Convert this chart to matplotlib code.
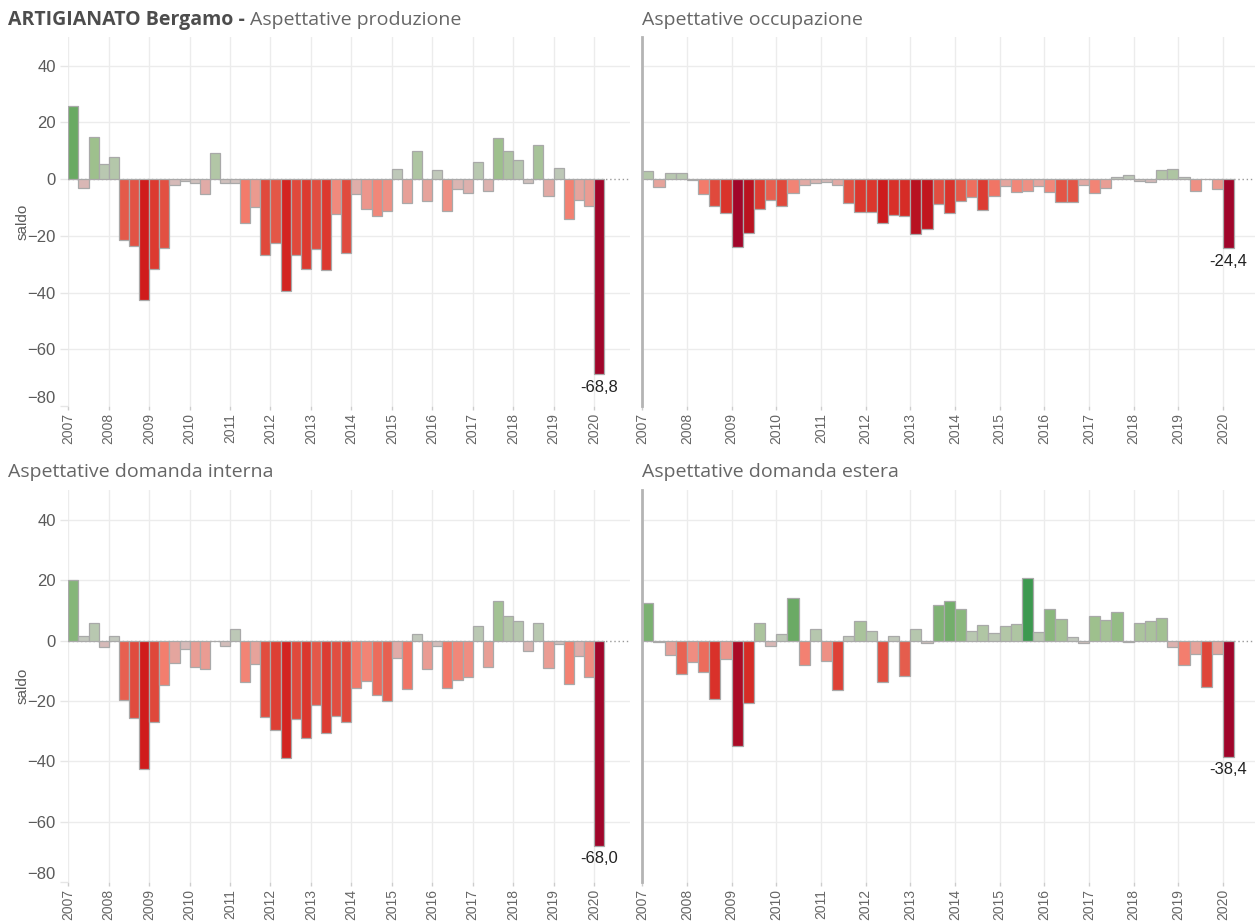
import numpy as np
import matplotlib
matplotlib.use('Agg')
import matplotlib.pyplot as plt
from matplotlib.colors import LinearSegmentedColormap, Normalize

plt.rcParams['font.family'] = ['Liberation Sans', 'DejaVu Sans']

# trimestri 2007 T1 .. 2020 T1
anni = list(range(2007, 2021))
trimestri = [(a, q) for a in anni for q in (1, 2, 3, 4)][:53]

produzione = [25.8, -3.1, 14.9, 5.5, 7.8, -21.5, -23.5, -42.5, -31.6, -24.4, -2.2, -0.6, -1.3, -5.4,
              9.1, -1.3, -1.3, -15.4, -10.0, -26.8, -22.4, -39.4, -26.8, -31.6, -24.8, -32.1, -12.4,
              -26.2, -5.3, -10.5, -13.1, -11.3, 3.5, -8.6, 9.9, -7.8, 3.1, -11.3, -3.6, -4.8, 6.2,
              -4.1, 14.6, 9.9, 6.7, -1.3, 12.2, -6.0, 4.0, -14.1, -7.4, -9.5, -68.8]
occupazione = [2.7, -2.8, 2.2, 2.2, -0.4, -5.4, -9.5, -12.1, -24.1, -18.9, -10.7, -7.2, -9.5, -4.8,
               -2.2, -1.3, -0.9, -2.2, -8.5, -11.6, -11.6, -15.6, -12.5, -13.1, -19.4, -17.6, -8.8,
               -12.1, -7.6, -6.2, -10.9, -5.9, -2.5, -4.6, -4.1, -2.5, -4.6, -8.1, -8.1, -2.2, -4.8,
               -3.1, 0.8, 1.5, -0.5, -0.9, 3.1, 3.5, 0.8, -4.1, 0.0, -3.6, -24.4]
domanda_interna = [20.0, 1.7, 5.9, -2.2, 1.7, -19.8, -25.7, -42.4, -27.0, -14.6, -7.3, -2.6, -8.7,
                   -9.4, -0.2, -1.8, 3.8, -13.7, -7.8, -25.3, -29.6, -39.0, -26.1, -32.1, -21.4,
                   -30.6, -24.9, -27.0, -15.6, -13.3, -18.0, -20.1, -5.7, -16.0, 2.2, -9.4, -1.8,
                   -15.6, -12.9, -12.1, 4.8, -8.7, 13.2, 8.2, 6.4, -3.4, 6.0, -9.1, -1.2, -14.2,
                   -5.1, -12.1, -68.0]
domanda_estera = [12.4, -0.4, -4.8, -11.1, -6.9, -10.2, -19.3, -6.0, -35.0, -20.6, 6.0, -1.7, 2.2,
                  14.1, -8.1, 3.8, -6.6, -16.3, 1.7, 6.4, 3.4, -13.7, 1.7, -11.7, 3.8, -0.9, 11.7,
                  13.2, 10.7, 3.4, 5.2, 2.6, 4.8, 5.6, 20.9, 3.0, 10.7, 7.2, 1.2, -0.9, 8.1, 6.9,
                  9.4, -0.4, 6.0, 6.4, 7.7, -2.2, -8.2, -4.3, -15.4, -4.3, -38.4]

titoli = ['Aspettative produzione', 'Aspettative occupazione',
          'Aspettative domanda interna', 'Aspettative domanda estera']
serie = [produzione, occupazione, domanda_interna, domanda_estera]

# scala colori rosso-verde divergente
cmap = LinearSegmentedColormap.from_list('rg', [
    (0.000, '#a0052a'), (0.115, '#bb1420'), (0.190, '#d01c1c'), (0.270, '#dc3a30'),
    (0.345, '#e45a4a'), (0.390, '#f47c6c'), (0.428, '#eb9a90'), (0.460, '#e0aca8'),
    (0.480, '#d8b8b6'), (0.500, '#c8c8c4'), (0.540, '#b9c8b2'), (0.565, '#b2c6a6'),
    (0.610, '#9dc08c'), (0.688, '#6aaa64'), (0.770, '#3e9a50'), (1.000, '#0a6a30')])

W, H = 1255, 921
fig = plt.figure(figsize=(W / 100, H / 100), dpi=100)

# posizioni pannelli in pixel: (sinistra, alto, destra, basso)
pannelli = [(68.3, 37.3, 630, 406), (642.3, 37.3, 1255, 406),
            (68.3, 490, 630, 882), (642.3, 490, 1255, 882)]
px_anno = [40.44, 44.67, 40.44, 44.67]

x = np.array([a + (q - 1) / 4 for a, q in trimestri])

for i, (vals, tit) in enumerate(zip(serie, titoli)):
    l, t, r, b = pannelli[i]
    ax = fig.add_axes([l / W, 1 - b / H, (r - l) / W, (b - t) / H])
    vals = np.array(vals)
    m = np.abs(vals).max()
    norm = Normalize(-m, m)
    ax.axhline(0, color='#999999', lw=1, ls=(0, (1, 2)), zorder=1)
    ax.bar(x, vals, width=0.25, align='edge', color=cmap(norm(vals)),
           edgecolor='#a9a9a9', linewidth=0.9, zorder=2)
    ax.set_xlim(2007, 2007 + (r - l) / px_anno[i])
    ax.set_ylim(-80, 50)
    ax.set_xticks(anni)
    ax.set_xticklabels([str(a) for a in anni], rotation=90, fontsize=10, color='#666666')
    ax.set_yticks([-80, -60, -40, -20, 0, 20, 40])
    ax.grid(True, color='#ececec', lw=1, zorder=0)
    ax.set_axisbelow(True)
    for k, tk in enumerate(ax.yaxis.get_major_ticks()):
        if k in (0, 4):
            tk.gridline.set_visible(False)
    ax.tick_params(axis='x', length=3, width=1, color='#cccccc', pad=2)
    ax.tick_params(axis='y', length=6, width=1, color='#e6e6e6', pad=3,
                   labelsize=12, labelcolor='#5a5a5a')
    for s in ax.spines.values():
        s.set_visible(False)
    if i % 2 == 1:
        ax.spines['left'].set_visible(True)
        ax.spines['left'].set_color('#b4b4b4')
        ax.spines['left'].set_linewidth(2)
        ax.tick_params(axis='y', length=0, labelleft=False)
    else:
        ax.yaxis.get_major_ticks()[0].label1.set_verticalalignment('bottom')
        fig.text(23 / W, 1 - (t + b) / 2 / H, 'saldo', rotation=90, ha='center', va='center',
                 fontsize=11, color='#5a5a5a')
    # etichetta ultimo valore
    ult = vals[-1]
    ax.annotate(f'{ult:.1f}'.replace('.', ','), xy=(x[-1] + 0.125, ult), xytext=(0, -4),
                textcoords='offset points', ha='center', va='top', fontsize=12, color='#222222')

    # titoli
    ty = 1 - (25 if i < 2 else 477) / H
    tx = (8 if i % 2 == 0 else 642) / W
    if i == 0:
        tb = fig.text(tx, ty, 'ARTIGIANATO Bergamo - ', fontsize=14, fontweight='bold',
                      color='#4d4d4d', family='Open Sans', va='baseline')
        fig.canvas.draw()
        bb = tb.get_window_extent()
        fig.text(bb.x1 / W, ty, tit, fontsize=14, color='#666666', family='Open Sans',
                 va='baseline')
    else:
        fig.text(tx, ty, tit, fontsize=14, color='#666666', family='Open Sans', va='baseline')

fig.savefig('out.png', dpi=100)
